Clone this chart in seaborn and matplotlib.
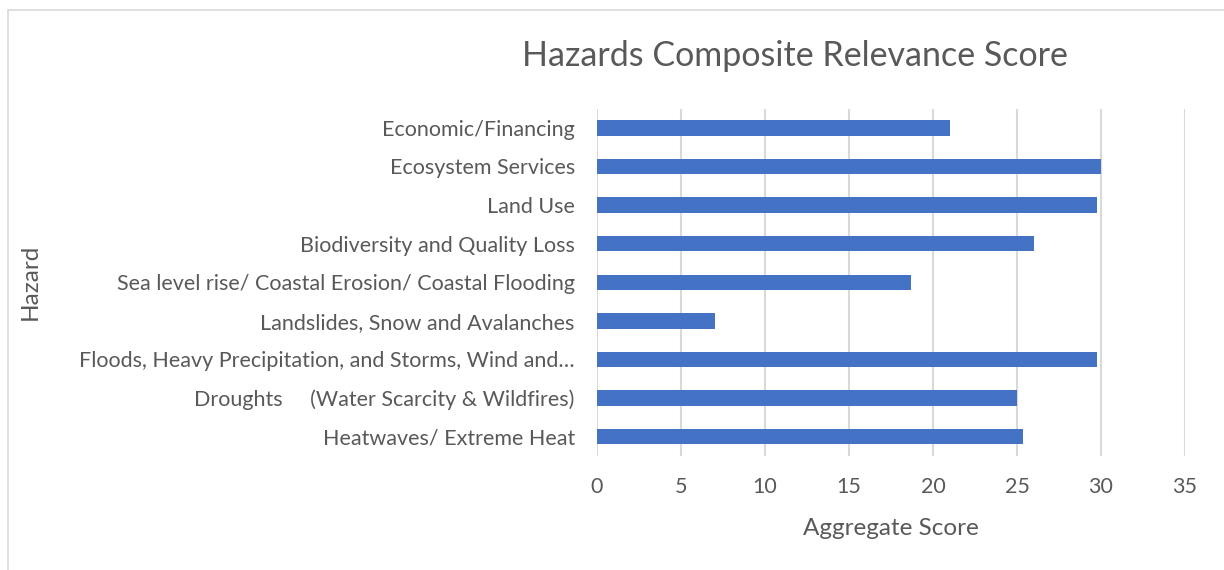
import matplotlib
matplotlib.use("Agg")
import matplotlib.pyplot as plt
import seaborn as sns
import pandas as pd
from matplotlib.patches import Rectangle

categories = [
    "Economic/Financing",
    "Ecosystem Services",
    "Land Use",
    "Biodiversity and Quality Loss",
    "Sea level rise/ Coastal Erosion/ Coastal Flooding",
    "Landslides, Snow and Avalanches",
    "Floods, Heavy Precipitation, and Storms, Wind and\u2026",
    "Droughts     (Water Scarcity & Wildfires)",
    "Heatwaves/ Extreme Heat",
]
scores = [21.0, 30.0, 29.75, 26.0, 18.67, 7.0, 29.75, 25.0, 25.33]
x_ticks = [0, 5, 10, 15, 20, 25, 30, 35]

sns.set_theme(style="white")
plt.rcParams["font.family"] = ["Lato", "DejaVu Sans"]

text_color = "#595959"
bar_color = "#4472C4"
grid_color = "#D9D9D9"

df = pd.DataFrame({"Hazard": categories, "Score": scores})

fig = plt.figure(figsize=(12.24, 5.7), dpi=100)
ax = fig.add_axes([597 / 1224, 1 - 456 / 570, 588 / 1224, (456 - 108.5) / 570])

sns.barplot(data=df, x="Score", y="Hazard", color=bar_color, width=0.4,
            saturation=1, ax=ax, zorder=3, edgecolor="none")

ax.set_xlim(0, 35)
ax.set_xticks(x_ticks)
ax.set_xticklabels([str(t) for t in x_ticks])
ax.xaxis.grid(True, color=grid_color, linewidth=1.5, zorder=0)
ax.yaxis.grid(False)
for s in ax.spines.values():
    s.set_visible(False)
ax.tick_params(axis="both", length=0, colors=text_color, labelsize=15.5)
ax.tick_params(axis="x", pad=15)
ax.tick_params(axis="y", pad=16)

ax.set_xlabel("Aggregate Score", fontsize=17.5, color=text_color, labelpad=15)
ax.set_ylabel("Hazard", fontsize=17.5, color=text_color)
ax.yaxis.set_label_coords(-0.946, 0.5)

fig.text(795 / 1224, 1 - 56 / 570, "Hazards Composite Relevance Score",
         ha="center", va="center", fontsize=24.5, color=text_color)

fig.patches.append(Rectangle((8 / 1224, -0.1), 1.2, 1.1 - 10 / 570, transform=fig.transFigure,
                             fill=False, edgecolor="#D9D9D9", linewidth=1.2))

fig.savefig("out.png", dpi=100, facecolor="white")
